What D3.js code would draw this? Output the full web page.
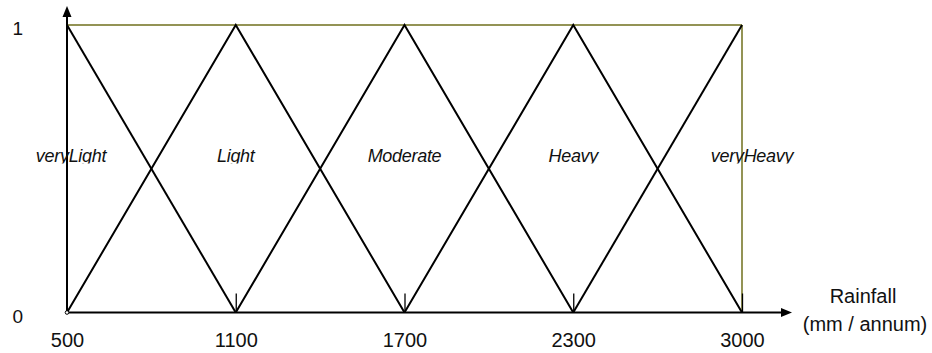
<!DOCTYPE html>
<html>
<head>
<meta charset="utf-8">
<script src="https://cdn.jsdelivr.net/npm/d3@7"></script>
<style>
  html, body { margin: 0; padding: 0; background: #fff; }
  svg { display: block; font-family: "Liberation Sans", Arial, sans-serif; }
</style>
</head>
<body>
<svg id="chart" width="932" height="353"></svg>
<script>
// ---- data ----
const categories = ["500", "1100", "1700", "2300", "3000"];
const yTickValues = [0, 1];
const yTickLabels = ["0", "1"];
const setNames = ["veryLight", "Light", "Moderate", "Heavy", "veryHeavy"];
const veryLight = [["500", 1], ["1100", 0]];
const light = [["500", 0], ["1100", 1], ["1700", 0]];
const moderate = [["1100", 0], ["1700", 1], ["2300", 0]];
const heavy = [["1700", 0], ["2300", 1], ["3000", 0]];
const veryHeavy = [["2300", 0], ["3000", 1]];
const setPeaks = ["500", "1100", "1700", "2300", "3000"];
const upperBound = [["500", 1], ["3000", 1]];
const rightBound = [["3000", 1], ["3000", 0]];
const axisTitle = ["Rainfall", "(mm / annum)"];

// ---- layout ----
const svg = d3.select("#chart");
const x = d3.scalePoint().domain(categories).range([67, 742]);
const y = d3.scaleLinear().domain([0, 1]).range([312.5, 25]);
const line = d3.line().x(d => x(d[0])).y(d => y(d[1]));

const olive = "#6f6f1c";

// upper bound & right bound (olive)
[upperBound, rightBound].forEach(s => {
  svg.append("path").attr("d", line(s))
    .attr("fill", "none").attr("stroke", olive).attr("stroke-width", 1.5);
});

// membership functions
[veryLight, light, moderate, heavy, veryHeavy].forEach(s => {
  svg.append("path").attr("d", line(s))
    .attr("fill", "none").attr("stroke", "#000").attr("stroke-width", 2)
    .attr("stroke-linejoin", "miter");
});

// x axis (ticks upward)
const xAxis = d3.axisBottom(x).tickSizeInner(-19).tickSizeOuter(0).tickPadding(20);
const gx = svg.append("g").attr("transform", `translate(0,${y(0)})`).call(xAxis);
gx.select(".domain").remove();
gx.selectAll(".tick line").attr("stroke", "#000").attr("stroke-width", 1.3)
  .filter(d => d === categories[0]).remove();
gx.selectAll(".tick text").attr("font-size", 20).attr("fill", "#111")
  .attr("font-family", "Liberation Sans, Arial, sans-serif");

// y axis labels
const yAxis = d3.axisLeft(y).tickValues(yTickValues)
  .tickFormat((d, i) => yTickLabels[i]).tickSize(0).tickPadding(44);
const gy = svg.append("g").attr("transform", `translate(${x(categories[0])},0)`).call(yAxis);
gy.select(".domain").remove();
gy.selectAll(".tick text").attr("font-size", 19).attr("fill", "#111").attr("dy", "0.5em")
  .attr("font-family", "Liberation Sans, Arial, sans-serif");

// axis lines with arrows
const x0 = x(categories[0]);
const xEnd = x(categories[categories.length - 1]) + 50;
svg.append("line").attr("x1", x0).attr("y1", y(0)).attr("x2", xEnd - 8).attr("y2", y(0))
  .attr("stroke", "#000").attr("stroke-width", 2);
svg.append("path")
  .attr("d", `M${xEnd},${y(0)} L${xEnd - 11},${y(0) - 4.5} L${xEnd - 11},${y(0) + 4.5} Z`)
  .attr("fill", "#000");
const yTop = 6;
svg.append("line").attr("x1", x0).attr("y1", y(0)).attr("x2", x0).attr("y2", yTop + 8)
  .attr("stroke", "#000").attr("stroke-width", 2);
svg.append("path")
  .attr("d", `M${x0},${yTop} L${x0 - 4.5},${yTop + 11} L${x0 + 4.5},${yTop + 11} Z`)
  .attr("fill", "#000");

// origin marker
svg.append("circle").attr("cx", x0).attr("cy", y(0)).attr("r", 1.8)
  .attr("fill", "#fff").attr("stroke", "#000").attr("stroke-width", 1);

// set labels (clipped just under the baseline, as in the original)
const labelY = 162;
svg.append("clipPath").attr("id", "labelClip")
  .append("rect").attr("x", 0).attr("y", 0).attr("width", 932).attr("height", labelY + 1.5);
svg.append("g").attr("clip-path", "url(#labelClip)")
  .selectAll("text").data(setNames).join("text")
  .attr("x", (d, i) => x(setPeaks[i]) + (i === 0 ? 4 : i === setNames.length - 1 ? 10 : 0))
  .attr("y", labelY)
  .attr("text-anchor", "middle")
  .attr("font-size", 18).attr("font-style", "italic").attr("fill", "#111")
  .attr("letter-spacing", "-0.3")
  .text(d => d);

// axis title
svg.append("text").attr("x", 863).attr("y", 303).attr("text-anchor", "middle")
  .attr("font-size", 20).attr("fill", "#111").text(axisTitle[0]);
svg.append("text").attr("x", 865).attr("y", 331).attr("text-anchor", "middle")
  .attr("font-size", 20).attr("fill", "#111").text(axisTitle[1]);
</script>
</body>
</html>
